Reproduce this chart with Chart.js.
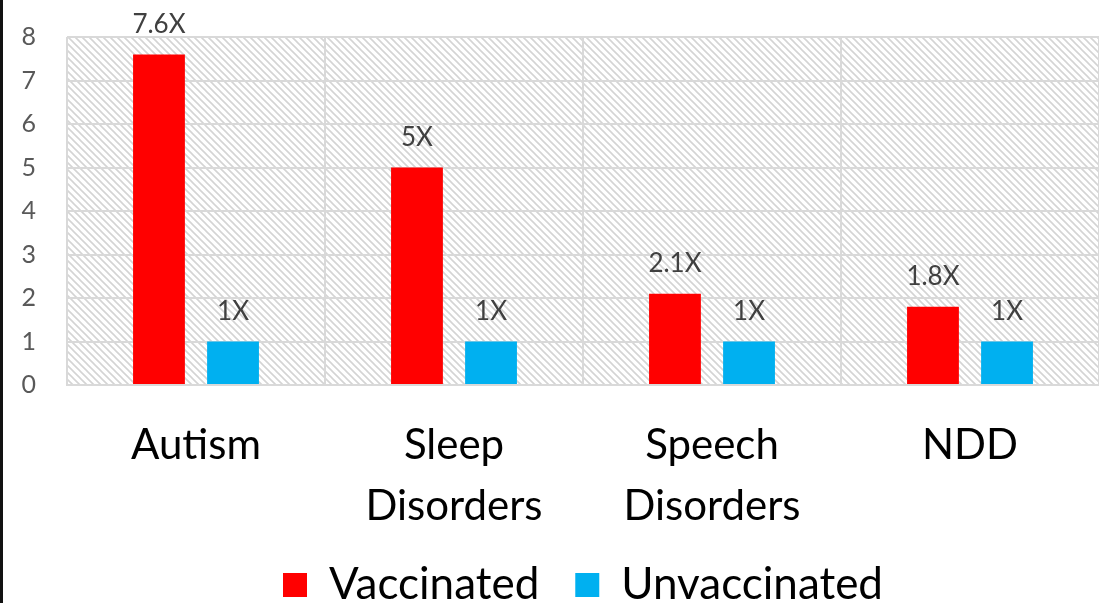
<!DOCTYPE html>
<html>
<head>
<meta charset="utf-8">
<script src="https://cdn.jsdelivr.net/npm/chart.js@4"></script>
<style>
  html, body { margin: 0; padding: 0; background: #fff; }
  body { width: 1099px; height: 603px; overflow: hidden; }
  .frame { border-left: 3px solid #111; width: 1096px; height: 603px; overflow: hidden; }
  canvas { display: block; }
</style>
</head>
<body>
<div class="frame"><canvas id="chart" width="1096" height="617"></canvas></div>
<script>
const categories = ["Autism", ["Sleep", "Disorders"], ["Speech", "Disorders"], "NDD"];
const vaccinated = [7.6, 5, 2.1, 1.8];
const unvaccinated = [1, 1, 1, 1];
const vaccinatedLabels = ["7.6X", "5X", "2.1X", "1.8X"];
const unvaccinatedLabels = ["1X", "1X", "1X", "1X"];
const yTicks = [0, 1, 2, 3, 4, 5, 6, 7, 8];

const colors = {
  Vaccinated: "#FF0000",
  Unvaccinated: "#00B0F0",
};

// diagonal "\" hatch like the Excel pattern fill
function makeHatch(ctx) {
  const size = 7;
  const c = document.createElement("canvas");
  c.width = size;
  c.height = size;
  const p = c.getContext("2d");
  p.strokeStyle = "#d4d4d4";
  p.lineWidth = 1.6;
  p.beginPath();
  [-size, 0, size].forEach((k) => {
    p.moveTo(-1, -1 + k);
    p.lineTo(size + 1, size + 1 + k);
  });
  p.stroke();
  return ctx.createPattern(c, "repeat");
}

const hatchBackground = {
  id: "hatchBackground",
  beforeDraw(chart) {
    const { ctx, chartArea } = chart;
    ctx.save();
    ctx.fillStyle = makeHatch(ctx);
    ctx.fillRect(chartArea.left, chartArea.top, chartArea.right - chartArea.left, chartArea.bottom - chartArea.top);
    ctx.restore();
  },
};

const barLabels = {
  id: "barLabels",
  afterDatasetsDraw(chart) {
    const { ctx } = chart;
    const texts = [vaccinatedLabels, unvaccinatedLabels];
    ctx.save();
    ctx.font = "26px Lato";
    ctx.fillStyle = "#404040";
    ctx.textAlign = "center";
    ctx.textBaseline = "bottom";
    chart.data.datasets.forEach((ds, di) => {
      chart.getDatasetMeta(di).data.forEach((bar, i) => {
        ctx.fillText(texts[di][i], bar.x, bar.y - 17);
      });
    });
    ctx.restore();
  },
};

new Chart(document.getElementById("chart"), {
  type: "bar",
  data: {
    labels: categories,
    datasets: [
      {
        label: "Vaccinated",
        data: vaccinated,
        backgroundColor: colors.Vaccinated,
        categoryPercentage: 0.574,
        barPercentage: 0.7,
      },
      {
        label: "Unvaccinated",
        data: unvaccinated,
        backgroundColor: colors.Unvaccinated,
        categoryPercentage: 0.574,
        barPercentage: 0.7,
      },
    ],
  },
  options: {
    responsive: false,
    animation: false,
    layout: {
      padding: { top: 37, right: 0, left: 0, bottom: 0 },
    },
    plugins: {
      legend: {
        position: "bottom",
        fullSize: false,
        labels: {
          boxWidth: 24,
          boxHeight: 24,
          padding: 36,
          color: "#000",
          font: { family: "Lato", size: 44 },
        },
      },
      tooltip: { enabled: false },
    },
    scales: {
      y: {
        min: 0,
        max: 8,
        afterBuildTicks: (scale) => {
          scale.ticks = yTicks.map((v) => ({ value: v }));
        },
        afterFit: (scale) => {
          scale.width = 64;
          scale.paddingTop = 0;
          scale.paddingBottom = 0;
        },
        grid: { color: "#d9d9d9", lineWidth: 2, drawTicks: false },
        border: { display: false },
        ticks: {
          padding: 31,
          color: "#595959",
          font: { family: "Lato", size: 25 },
        },
      },
      x: {
        afterFit: (scale) => {
          scale.height = 142;
        },
        grid: { color: "#d9d9d9", lineWidth: 2, offset: true, drawTicks: false },
        border: { color: "#d9d9d9", width: 2 },
        ticks: {
          padding: 30,
          color: "#000",
          maxRotation: 0,
          font: { family: "Lato", size: 42, lineHeight: 1.45 },
        },
      },
    },
  },
  plugins: [hatchBackground, barLabels],
});
</script>
</body>
</html>
